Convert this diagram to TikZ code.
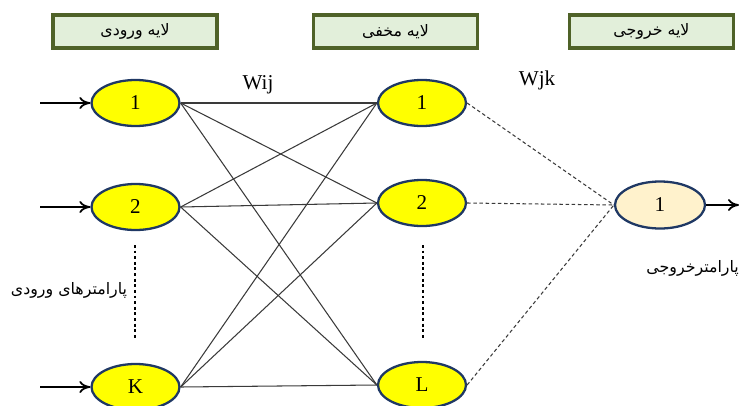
\documentclass[tikz,border=0pt]{standalone}
\usepackage{fontspec}
\setmainfont{Liberation Serif}
\newfontfamily\arabicfont[Script=Arabic]{DejaVu Sans}
\TeXXeTstate=1
\usetikzlibrary{arrows.meta,positioning,shapes.geometric}
\definecolor{layergreen}{HTML}{4F6228}
\definecolor{layerfill}{HTML}{E2EFDA}
\definecolor{nodeborder}{HTML}{1F3864}
\definecolor{nodeyellow}{HTML}{FFFF00}
\definecolor{outfill}{HTML}{FFF2CC}
\definecolor{linkgray}{HTML}{3A3A3A}

\tikzset{
    layerbox/.style={draw=layergreen, line width=1.8pt, fill=layerfill, minimum width=3.28cm, minimum height=0.66cm, font=\arabicfont\small},
    neuron/.style={ellipse, draw=nodeborder, line width=1.3pt, fill=nodeyellow, minimum width=1.76cm, minimum height=0.92cm, inner sep=0pt, font=\large},
    link/.style={linkgray, line width=0.6pt},
    wlink/.style={linkgray, line width=0.6pt, dash pattern=on 2pt off 1.5pt},
    feed/.style={-{To[length=2.2mm,width=2.4mm]}, line width=1pt, black},
    gapline/.style={line width=1.6pt, dash pattern=on 1.6pt off 1.6pt}
}

\begin{document}
\begin{tikzpicture}
    \useasboundingbox (0,0) rectangle (14.78,8.1);

    % Layer titles
    \node[layerbox] (hdrIn) at (2.7,7.47) {\beginR لایه ورودی\endR};
    \node[layerbox] (hdrHid) at (7.91,7.47) {\beginR لایه مخفی\endR};
    \node[layerbox] (hdrOut) at (13.03,7.47) {\beginR لایه خروجی\endR};

    % Input layer
    \node[neuron] (in1) at (2.71,6.04) {1};
    \node[neuron] (in2) at (2.71,3.96) {2};
    \node[neuron] (inK) at (2.71,0.36) {K};

    % Hidden layer
    \node[neuron] (hid1) at (8.44,6.04) {1};
    \node[neuron] (hid2) at (8.44,4.04) {2};
    \node[neuron] (hidL) at (8.44,0.40) {L};

    % Output layer
    \node[neuron, fill=outfill, minimum width=1.8cm, minimum height=0.94cm] (out1) at (13.2,4.0) {1};

    % Weights
    \node[font=\large] (wij) at (5.16,6.4) {Wij};
    \node[font=\large] (wjk) at (10.74,6.5) {Wjk};

    % Input / output arrows
    \coordinate (src1) at (0.8,6.04);
    \coordinate (src2) at (0.8,3.96);
    \coordinate (srcK) at (0.8,0.36);
    \coordinate (sink) at (14.78,4.0);
    \draw[feed] (src1) -- (in1);
    \draw[feed] (src2) -- (in2);
    \draw[feed] (srcK) -- (inK);
    \draw[feed] (out1) -- (sink);

    % Connections
    \foreach \i in {in1,in2,inK} {
        \foreach \j in {hid1,hid2,hidL} {
            \draw[link] (\i.east) -- (\j.west);
        }
    }
    \foreach \j in {hid1,hid2,hidL} {
        \draw[wlink] (\j.east) -- (out1.west);
    }

    % Skipped neurons
    \draw[gapline] (2.7,3.2) -- (2.7,1.3);
    \draw[gapline] (8.46,3.2) -- (8.46,1.3);

    % Parameter labels
    \node[font=\arabicfont\small] (inparam) at (1.38,2.3) {\beginR پارامترهای ورودی\endR};
    \node[font=\arabicfont\small, anchor=east] (outparam) at (14.9,2.74) {\beginR پارامترخروجی\endR};
\end{tikzpicture}
\end{document}
